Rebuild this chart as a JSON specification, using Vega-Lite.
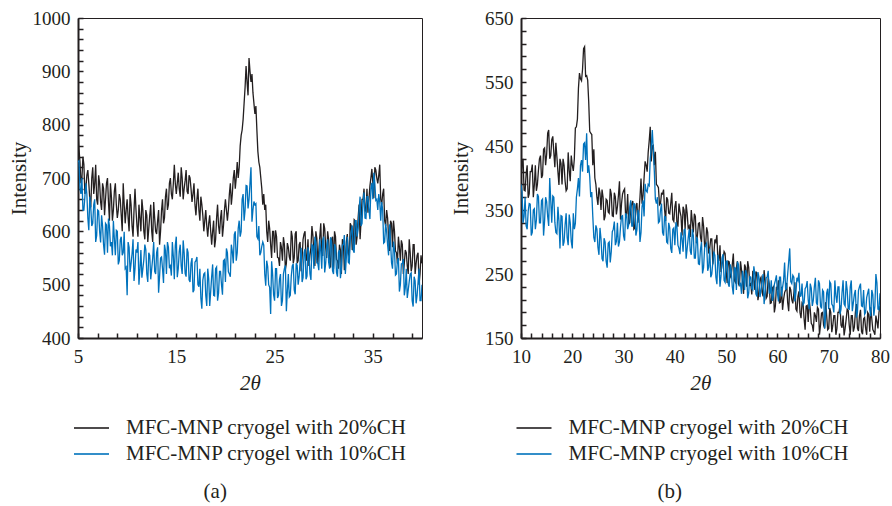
{
  "$schema": "https://vega.github.io/schema/vega-lite/v6.json",
  "background": "white",
  "padding": {"left": 8, "top": 8, "right": 4, "bottom": 2},
  "datasets": {
    "a": [
      {"t":5,"c20":790,"c10":730},{"t":5.2,"c20":730,"c10":680},{"t":5.4,"c20":700,"c10":700},{"t":5.6,"c20":725,"c10":640},{"t":5.8,"c20":680,"c10":690},{"t":6,"c20":715,"c10":625},{"t":6.2,"c20":660,"c10":665},{"t":6.4,"c20":700,"c10":610},{"t":6.6,"c20":670,"c10":650},{"t":6.8,"c20":725,"c10":580},
      {"t":7,"c20":650,"c10":640},{"t":7.2,"c20":690,"c10":600},{"t":7.4,"c20":640,"c10":630},{"t":7.6,"c20":680,"c10":575},{"t":7.8,"c20":660,"c10":615},{"t":8,"c20":700,"c10":560},{"t":8.2,"c20":620,"c10":610},{"t":8.4,"c20":665,"c10":580},{"t":8.6,"c20":640,"c10":620},{"t":8.8,"c20":690,"c10":555},
      {"t":9,"c20":625,"c10":600},{"t":9.2,"c20":670,"c10":545},{"t":9.4,"c20":630,"c10":590},{"t":9.6,"c20":690,"c10":560},{"t":9.8,"c20":615,"c10":530},{"t":10,"c20":660,"c10":480},{"t":10.2,"c20":600,"c10":570},{"t":10.4,"c20":650,"c10":540},{"t":10.6,"c20":590,"c10":585},{"t":10.8,"c20":680,"c10":530},
      {"t":11,"c20":610,"c10":560},{"t":11.2,"c20":650,"c10":500},{"t":11.4,"c20":600,"c10":565},{"t":11.6,"c20":640,"c10":530},{"t":11.8,"c20":585,"c10":575},{"t":12,"c20":630,"c10":520},{"t":12.2,"c20":605,"c10":560},{"t":12.4,"c20":650,"c10":510},{"t":12.6,"c20":580,"c10":550},{"t":12.8,"c20":625,"c10":525},
      {"t":13,"c20":595,"c10":560},{"t":13.2,"c20":640,"c10":485},{"t":13.4,"c20":600,"c10":550},{"t":13.6,"c20":660,"c10":530},{"t":13.8,"c20":625,"c10":575},{"t":14,"c20":680,"c10":520},{"t":14.2,"c20":650,"c10":570},{"t":14.4,"c20":700,"c10":535},{"t":14.6,"c20":660,"c10":580},{"t":14.8,"c20":725,"c10":510},
      {"t":15,"c20":670,"c10":590},{"t":15.2,"c20":710,"c10":530},{"t":15.4,"c20":665,"c10":575},{"t":15.6,"c20":700,"c10":520},{"t":15.8,"c20":680,"c10":560},{"t":16,"c20":715,"c10":515},{"t":16.2,"c20":670,"c10":560},{"t":16.4,"c20":700,"c10":505},{"t":16.6,"c20":655,"c10":550},{"t":16.8,"c20":690,"c10":490},
      {"t":17,"c20":630,"c10":545},{"t":17.2,"c20":680,"c10":500},{"t":17.4,"c20":620,"c10":530},{"t":17.6,"c20":650,"c10":455},{"t":17.8,"c20":600,"c10":520},{"t":18,"c20":640,"c10":480},{"t":18.2,"c20":590,"c10":530},{"t":18.4,"c20":630,"c10":460},{"t":18.6,"c20":575,"c10":515},{"t":18.8,"c20":620,"c10":480},
      {"t":19,"c20":585,"c10":530},{"t":19.2,"c20":650,"c10":470},{"t":19.4,"c20":595,"c10":525},{"t":19.6,"c20":640,"c10":500},{"t":19.8,"c20":610,"c10":545},{"t":20,"c20":660,"c10":505},{"t":20.2,"c20":620,"c10":560},{"t":20.4,"c20":670,"c10":520},{"t":20.6,"c20":650,"c10":575},{"t":20.8,"c20":700,"c10":540},
      {"t":21,"c20":680,"c10":600},{"t":21.2,"c20":730,"c10":560},{"t":21.4,"c20":720,"c10":620},{"t":21.6,"c20":780,"c10":600},{"t":21.8,"c20":810,"c10":670},{"t":22,"c20":870,"c10":640},{"t":22.2,"c20":880,"c10":685},{"t":22.4,"c20":925,"c10":660},{"t":22.6,"c20":880,"c10":720},{"t":22.8,"c20":860,"c10":640},
      {"t":23,"c20":820,"c10":650},{"t":23.2,"c20":790,"c10":590},{"t":23.4,"c20":730,"c10":610},{"t":23.6,"c20":700,"c10":560},{"t":23.8,"c20":650,"c10":580},{"t":24,"c20":640,"c10":520},{"t":24.2,"c20":600,"c10":545},{"t":24.4,"c20":620,"c10":500},{"t":24.6,"c20":575,"c10":445},{"t":24.8,"c20":600,"c10":520},
      {"t":25,"c20":560,"c10":470},{"t":25.2,"c20":590,"c10":530},{"t":25.4,"c20":550,"c10":480},{"t":25.6,"c20":580,"c10":520},{"t":25.8,"c20":545,"c10":470},{"t":26,"c20":575,"c10":530},{"t":26.2,"c20":540,"c10":450},{"t":26.4,"c20":570,"c10":520},{"t":26.6,"c20":545,"c10":480},{"t":26.8,"c20":590,"c10":535},
      {"t":27,"c20":550,"c10":490},{"t":27.2,"c20":600,"c10":540},{"t":27.4,"c20":545,"c10":500},{"t":27.6,"c20":580,"c10":545},{"t":27.8,"c20":550,"c10":505},{"t":28,"c20":595,"c10":560},{"t":28.2,"c20":545,"c10":510},{"t":28.4,"c20":585,"c10":570},{"t":28.6,"c20":555,"c10":520},{"t":28.8,"c20":610,"c10":575},
      {"t":29,"c20":560,"c10":530},{"t":29.2,"c20":600,"c10":580},{"t":29.4,"c20":540,"c10":540},{"t":29.6,"c20":590,"c10":585},{"t":29.8,"c20":555,"c10":530},{"t":30,"c20":615,"c10":590},{"t":30.2,"c20":570,"c10":540},{"t":30.4,"c20":600,"c10":585},{"t":30.6,"c20":550,"c10":530},{"t":30.8,"c20":585,"c10":580},
      {"t":31,"c20":530,"c10":520},{"t":31.2,"c20":590,"c10":570},{"t":31.4,"c20":545,"c10":515},{"t":31.6,"c20":575,"c10":565},{"t":31.8,"c20":520,"c10":530},{"t":32,"c20":580,"c10":575},{"t":32.2,"c20":545,"c10":520},{"t":32.4,"c20":595,"c10":590},{"t":32.6,"c20":550,"c10":540},{"t":32.8,"c20":610,"c10":600},
      {"t":33,"c20":570,"c10":565},{"t":33.2,"c20":620,"c10":620},{"t":33.4,"c20":590,"c10":590},{"t":33.6,"c20":650,"c10":640},{"t":33.8,"c20":620,"c10":610},{"t":34,"c20":660,"c10":655},{"t":34.2,"c20":640,"c10":625},{"t":34.4,"c20":680,"c10":665},{"t":34.6,"c20":660,"c10":640},{"t":34.8,"c20":700,"c10":680},
      {"t":35,"c20":690,"c10":660},{"t":35.2,"c20":720,"c10":690},{"t":35.4,"c20":700,"c10":660},{"t":35.6,"c20":705,"c10":670},{"t":35.8,"c20":660,"c10":620},{"t":36,"c20":670,"c10":640},{"t":36.2,"c20":620,"c10":580},{"t":36.4,"c20":640,"c10":600},{"t":36.6,"c20":590,"c10":555},{"t":36.8,"c20":620,"c10":580},
      {"t":37,"c20":570,"c10":530},{"t":37.2,"c20":600,"c10":565},{"t":37.4,"c20":560,"c10":520},{"t":37.6,"c20":590,"c10":550},{"t":37.8,"c20":545,"c10":500},{"t":38,"c20":575,"c10":540},{"t":38.2,"c20":540,"c10":480},{"t":38.4,"c20":560,"c10":530},{"t":38.6,"c20":520,"c10":490},{"t":38.8,"c20":560,"c10":520},
      {"t":39,"c20":535,"c10":470},{"t":39.2,"c20":575,"c10":515},{"t":39.4,"c20":540,"c10":465},{"t":39.6,"c20":560,"c10":505},{"t":39.8,"c20":520,"c10":470},{"t":40,"c20":540,"c10":500},
      {"t":5.1,"c20":755,"c10":732},{"t":5.3,"c20":690,"c10":670},{"t":5.5,"c20":740,"c10":640},{"t":5.7,"c20":670,"c10":665},{"t":5.9,"c20":705,"c10":670},
      {"t":6.1,"c20":690,"c10":602},{"t":6.3,"c20":645,"c10":645},{"t":6.5,"c20":720,"c10":615},{"t":6.7,"c20":690,"c10":660},{"t":6.9,"c20":660,"c10":592},
      {"t":7.1,"c20":705,"c10":638},{"t":7.3,"c20":655,"c10":579},{"t":7.5,"c20":690,"c10":610},{"t":7.7,"c20":630,"c10":556},{"t":7.9,"c20":690,"c10":612},
      {"t":8.1,"c20":655,"c10":624},{"t":8.3,"c20":690,"c10":572},{"t":8.5,"c20":620,"c10":555},{"t":8.7,"c20":675,"c10":586},{"t":8.9,"c20":650,"c10":602},
      {"t":9.1,"c20":640,"c10":538},{"t":9.3,"c20":660,"c10":584},{"t":9.5,"c20":600,"c10":555},{"t":9.7,"c20":650,"c10":599},{"t":9.9,"c20":640,"c10":533},
      {"t":10.1,"c20":625,"c10":580},{"t":10.3,"c20":670,"c10":524},{"t":10.5,"c20":610,"c10":558},{"t":10.7,"c20":640,"c10":507},{"t":10.9,"c20":640,"c10":566},
      {"t":11.1,"c20":590,"c10":580},{"t":11.3,"c20":625,"c10":529},{"t":11.5,"c20":660,"c10":513},{"t":11.7,"c20":600,"c10":547},{"t":11.9,"c20":640,"c10":566},
      {"t":12.1,"c20":580,"c10":505},{"t":12.3,"c20":630,"c10":555},{"t":12.5,"c20":600,"c10":530},{"t":12.7,"c20":655,"c10":580},{"t":12.9,"c20":600,"c10":520},
      {"t":13.1,"c20":620,"c10":570},{"t":13.3,"c20":575,"c10":516},{"t":13.5,"c20":640,"c10":552},{"t":13.7,"c20":615,"c10":503},{"t":13.9,"c20":665,"c10":564},
      {"t":14.1,"c20":640,"c10":580},{"t":14.3,"c20":690,"c10":531},{"t":14.5,"c20":670,"c10":517},{"t":14.7,"c20":690,"c10":553},{"t":14.9,"c20":690,"c10":574},
      {"t":15.1,"c20":690,"c10":514},{"t":15.3,"c20":680,"c10":562},{"t":15.5,"c20":720,"c10":535},{"t":15.7,"c20":660,"c10":583},{"t":15.9,"c20":695,"c10":521},
      {"t":16.1,"c20":675,"c10":568},{"t":16.3,"c20":705,"c10":509},{"t":16.5,"c20":680,"c10":540},{"t":16.7,"c20":670,"c10":486},{"t":16.9,"c20":650,"c10":542},
      {"t":17.1,"c20":660,"c10":552},{"t":17.3,"c20":640,"c10":496},{"t":17.5,"c20":665,"c10":475},{"t":17.7,"c20":630,"c10":508},{"t":17.9,"c20":620,"c10":522},
      {"t":18.1,"c20":610,"c10":460},{"t":18.3,"c20":615,"c10":511},{"t":18.5,"c20":600,"c10":487},{"t":18.7,"c20":600,"c10":538},{"t":18.9,"c20":570,"c10":479},
      {"t":19.1,"c20":625,"c10":533},{"t":19.3,"c20":610,"c10":484},{"t":19.5,"c20":625,"c10":525},{"t":19.7,"c20":590,"c10":481},{"t":19.9,"c20":640,"c10":547},
      {"t":20.1,"c20":640,"c10":568},{"t":20.3,"c20":640,"c10":524},{"t":20.5,"c20":690,"c10":515},{"t":20.7,"c20":670,"c10":562},{"t":20.9,"c20":715,"c10":594},
      {"t":21.1,"c20":700,"c10":545},{"t":21.3,"c20":700,"c10":605},{"t":21.5,"c20":760,"c10":590},{"t":21.7,"c20":790,"c10":660},{"t":21.9,"c20":840,"c10":620},
      {"t":22.1,"c20":910,"c10":686},{"t":22.3,"c20":855,"c10":643},{"t":22.5,"c20":900,"c10":690},{"t":22.7,"c20":895,"c10":618},{"t":22.9,"c20":840,"c10":656},
      {"t":23.1,"c20":835,"c10":652},{"t":23.3,"c20":750,"c10":586},{"t":23.5,"c20":720,"c10":555},{"t":23.7,"c20":680,"c10":572},{"t":23.9,"c20":670,"c10":574},
      {"t":24.1,"c20":650,"c10":498},{"t":24.3,"c20":580,"c10":534},{"t":24.5,"c20":605,"c10":495},{"t":24.7,"c20":550,"c10":544},{"t":24.9,"c20":600,"c10":481},
      {"t":25.1,"c20":602,"c10":530},{"t":25.3,"c20":551,"c10":475},{"t":25.5,"c20":535,"c10":510},{"t":25.7,"c20":570,"c10":460},{"t":25.9,"c20":589,"c10":520},
      {"t":26.1,"c20":528,"c10":536},{"t":26.3,"c20":578,"c10":488},{"t":26.5,"c20":552,"c10":477},{"t":26.7,"c20":601,"c10":516},{"t":26.9,"c20":540,"c10":539},
      {"t":27.1,"c20":595,"c10":482},{"t":27.3,"c20":540,"c10":536},{"t":27.5,"c20":575,"c10":515},{"t":27.7,"c20":525,"c10":569},{"t":27.9,"c20":585,"c10":513},
      {"t":28.1,"c20":600,"c10":567},{"t":28.3,"c20":550,"c10":516},{"t":28.5,"c20":535,"c10":555},{"t":28.7,"c20":570,"c10":509},{"t":28.9,"c20":592,"c10":573},
      {"t":29.1,"c20":535,"c10":590},{"t":29.3,"c20":587,"c10":541},{"t":29.5,"c20":564,"c10":527},{"t":29.7,"c20":615,"c10":563},{"t":29.9,"c20":555,"c10":584},
      {"t":30.1,"c20":605,"c10":523},{"t":30.3,"c20":550,"c10":570},{"t":30.5,"c20":584,"c10":542},{"t":30.7,"c20":532,"c10":589},{"t":30.9,"c20":590,"c10":526},
      {"t":31.1,"c20":600,"c10":576},{"t":31.3,"c20":547,"c10":523},{"t":31.5,"c20":530,"c10":560},{"t":31.7,"c20":565,"c10":512},{"t":31.9,"c20":585,"c10":574},
      {"t":32.1,"c20":527,"c10":593},{"t":32.3,"c20":580,"c10":550},{"t":32.5,"c20":560,"c10":542},{"t":32.7,"c20":615,"c10":584},{"t":32.9,"c20":565,"c10":611},
      {"t":33.1,"c20":622,"c10":560},{"t":33.3,"c20":575,"c10":620},{"t":33.5,"c20":625,"c10":605},{"t":33.7,"c20":585,"c10":665},{"t":33.9,"c20":660,"c10":615},
      {"t":34.1,"c20":680,"c10":673},{"t":34.3,"c20":637,"c10":624},{"t":34.5,"c20":635,"c10":665},{"t":34.7,"c20":685,"c10":623},{"t":34.9,"c20":717,"c10":691},
      {"t":35.1,"c20":662,"c10":710},{"t":35.3,"c20":715,"c10":658},{"t":35.5,"c20":690,"c10":640},{"t":35.7,"c20":725,"c10":655},{"t":35.9,"c20":650,"c10":655},
      {"t":36.1,"c20":680,"c10":578},{"t":36.3,"c20":610,"c10":614},{"t":36.5,"c20":625,"c10":575},{"t":36.7,"c20":563,"c10":613},{"t":36.9,"c20":615,"c10":541},
      {"t":37.1,"c20":620,"c10":581},{"t":37.3,"c20":563,"c10":518},{"t":37.5,"c20":540,"c10":545},{"t":37.7,"c20":570,"c10":487},{"t":37.9,"c20":583,"c10":539},
      {"t":38.1,"c20":520,"c10":548},{"t":38.3,"c20":565,"c10":494},{"t":38.5,"c20":535,"c10":475},{"t":38.7,"c20":585,"c10":506},{"t":38.9,"c20":525,"c10":522},
      {"t":39.1,"c20":575,"c10":459},{"t":39.3,"c20":520,"c10":507},{"t":39.5,"c20":555,"c10":480},{"t":39.7,"c20":500,"c10":530},{"t":39.9,"c20":555,"c10":470}
    ],
    "b": [
      {"t":10,"c20":400,"c10":390},{"t":10.4,"c20":430,"c10":330},{"t":10.8,"c20":380,"c10":370},{"t":11.2,"c20":420,"c10":320},{"t":11.6,"c20":375,"c10":360},{"t":12,"c20":410,"c10":310},{"t":12.4,"c20":370,"c10":350},{"t":12.8,"c20":420,"c10":320},{"t":13.2,"c20":390,"c10":375},{"t":13.6,"c20":430,"c10":330},
      {"t":14,"c20":400,"c10":365},{"t":14.4,"c20":445,"c10":310},{"t":14.8,"c20":420,"c10":370},{"t":15.2,"c20":470,"c10":340},{"t":15.6,"c20":430,"c10":400},{"t":16,"c20":460,"c10":330},{"t":16.4,"c20":440,"c10":370},{"t":16.8,"c20":455,"c10":315},{"t":17.2,"c20":410,"c10":355},{"t":17.6,"c20":430,"c10":290},
      {"t":18,"c20":390,"c10":340},{"t":18.4,"c20":420,"c10":300},{"t":18.8,"c20":380,"c10":345},{"t":19.2,"c20":440,"c10":295},{"t":19.6,"c20":395,"c10":330},{"t":20,"c20":420,"c10":290},{"t":20.4,"c20":430,"c10":320},{"t":20.8,"c20":480,"c10":370},{"t":21.2,"c20":540,"c10":400},{"t":21.6,"c20":555,"c10":420},
      {"t":22,"c20":570,"c10":410},{"t":22.4,"c20":605,"c10":455},{"t":22.8,"c20":560,"c10":470},{"t":23.2,"c20":520,"c10":420},{"t":23.6,"c20":470,"c10":370},{"t":24,"c20":420,"c10":340},{"t":24.4,"c20":400,"c10":300},{"t":24.8,"c20":370,"c10":320},{"t":25.2,"c20":385,"c10":280},{"t":25.6,"c20":350,"c10":305},
      {"t":26,"c20":370,"c10":270},{"t":26.4,"c20":340,"c10":300},{"t":26.8,"c20":365,"c10":260},{"t":27.2,"c20":345,"c10":300},{"t":27.6,"c20":375,"c10":285},{"t":28,"c20":340,"c10":320},{"t":28.4,"c20":370,"c10":295},{"t":28.8,"c20":355,"c10":330},{"t":29.2,"c20":395,"c10":300},{"t":29.6,"c20":360,"c10":340},
      {"t":30,"c20":380,"c10":310},{"t":30.4,"c20":340,"c10":345},{"t":30.8,"c20":375,"c10":320},{"t":31.2,"c20":330,"c10":355},{"t":31.6,"c20":360,"c10":325},{"t":32,"c20":320,"c10":360},{"t":32.4,"c20":355,"c10":310},{"t":32.8,"c20":330,"c10":350},{"t":33.2,"c20":370,"c10":300},{"t":33.6,"c20":360,"c10":355},
      {"t":34,"c20":400,"c10":340},{"t":34.4,"c20":420,"c10":380},{"t":34.8,"c20":440,"c10":390},{"t":35.2,"c20":480,"c10":430},{"t":35.6,"c20":450,"c10":475},{"t":36,"c20":420,"c10":410},{"t":36.4,"c20":390,"c10":360},{"t":36.8,"c20":385,"c10":330},{"t":37.2,"c20":360,"c10":350},{"t":37.6,"c20":375,"c10":315},
      {"t":38,"c20":350,"c10":340},{"t":38.4,"c20":370,"c10":300},{"t":38.8,"c20":345,"c10":330},{"t":39.2,"c20":360,"c10":290},{"t":39.6,"c20":335,"c10":320},{"t":40,"c20":355,"c10":295},{"t":40.4,"c20":330,"c10":325},{"t":40.8,"c20":360,"c10":290},{"t":41.2,"c20":340,"c10":315},{"t":41.6,"c20":355,"c10":285},
      {"t":42,"c20":320,"c10":320},{"t":42.4,"c20":345,"c10":290},{"t":42.8,"c20":325,"c10":320},{"t":43.2,"c20":350,"c10":280},{"t":43.6,"c20":315,"c10":310},{"t":44,"c20":340,"c10":275},{"t":44.4,"c20":310,"c10":305},{"t":44.8,"c20":330,"c10":265},{"t":45.2,"c20":300,"c10":300},{"t":45.6,"c20":325,"c10":260},
      {"t":46,"c20":295,"c10":295},{"t":46.4,"c20":315,"c10":255},{"t":46.8,"c20":290,"c10":290},{"t":47.2,"c20":305,"c10":250},{"t":47.6,"c20":280,"c10":285},{"t":48,"c20":300,"c10":245},{"t":48.4,"c20":270,"c10":280},{"t":48.8,"c20":295,"c10":230},{"t":49.2,"c20":265,"c10":275},{"t":49.6,"c20":285,"c10":240},
      {"t":50,"c20":255,"c10":270},{"t":50.4,"c20":270,"c10":235},{"t":50.8,"c20":245,"c10":265},{"t":51.2,"c20":265,"c10":230},{"t":51.6,"c20":240,"c10":260},{"t":52,"c20":260,"c10":225},{"t":52.4,"c20":235,"c10":265},{"t":52.8,"c20":270,"c10":235},{"t":53.2,"c20":240,"c10":255},{"t":53.6,"c20":265,"c10":225},
      {"t":54,"c20":230,"c10":250},{"t":54.4,"c20":260,"c10":220},{"t":54.8,"c20":235,"c10":245},{"t":55.2,"c20":255,"c10":225},{"t":55.6,"c20":225,"c10":250},{"t":56,"c20":250,"c10":215},{"t":56.4,"c20":220,"c10":245},{"t":56.8,"c20":245,"c10":225},{"t":57.2,"c20":215,"c10":250},{"t":57.6,"c20":240,"c10":220},
      {"t":58,"c20":215,"c10":245},{"t":58.4,"c20":235,"c10":220},{"t":58.8,"c20":205,"c10":240},{"t":59.2,"c20":230,"c10":215},{"t":59.6,"c20":200,"c10":240},{"t":60,"c20":225,"c10":220},{"t":60.4,"c20":205,"c10":245},{"t":60.8,"c20":230,"c10":215},{"t":61.2,"c20":210,"c10":240},{"t":61.6,"c20":225,"c10":225},
      {"t":62,"c20":205,"c10":250},{"t":62.4,"c20":230,"c10":290},{"t":62.8,"c20":210,"c10":235},{"t":63.2,"c20":220,"c10":245},{"t":63.6,"c20":195,"c10":220},{"t":64,"c20":215,"c10":240},{"t":64.4,"c20":190,"c10":215},{"t":64.8,"c20":205,"c10":235},{"t":65.2,"c20":180,"c10":205},{"t":65.6,"c20":200,"c10":230},
      {"t":66,"c20":175,"c10":210},{"t":66.4,"c20":195,"c10":235},{"t":66.8,"c20":170,"c10":200},{"t":67.2,"c20":190,"c10":230},{"t":67.6,"c20":175,"c10":205},{"t":68,"c20":195,"c10":240},{"t":68.4,"c20":170,"c10":200},{"t":68.8,"c20":190,"c10":225},{"t":69.2,"c20":165,"c10":165},{"t":69.6,"c20":185,"c10":220},
      {"t":70,"c20":165,"c10":195},{"t":70.4,"c20":190,"c10":235},{"t":70.8,"c20":170,"c10":200},{"t":71.2,"c20":185,"c10":240},{"t":71.6,"c20":165,"c10":205},{"t":72,"c20":190,"c10":230},{"t":72.4,"c20":170,"c10":195},{"t":72.8,"c20":185,"c10":240},{"t":73.2,"c20":165,"c10":200},{"t":73.6,"c20":195,"c10":225},
      {"t":74,"c20":170,"c10":195},{"t":74.4,"c20":185,"c10":240},{"t":74.8,"c20":160,"c10":205},{"t":75.2,"c20":190,"c10":225},{"t":75.6,"c20":165,"c10":190},{"t":76,"c20":185,"c10":230},{"t":76.4,"c20":160,"c10":200},{"t":76.8,"c20":180,"c10":225},{"t":77.2,"c20":165,"c10":190},{"t":77.6,"c20":190,"c10":220},
      {"t":78,"c20":160,"c10":195},{"t":78.4,"c20":180,"c10":225},{"t":78.8,"c20":160,"c10":185},{"t":79.2,"c20":185,"c10":250},{"t":79.6,"c20":165,"c10":195},{"t":80,"c20":200,"c10":220},
      {"t":10.2,"c20":420,"c10":378},{"t":10.6,"c20":381,"c10":340},{"t":11,"c20":406,"c10":325},{"t":11.4,"c20":369,"c10":348},{"t":11.8,"c20":410,"c10":359},
      {"t":12.2,"c20":421,"c10":315},{"t":12.6,"c20":389,"c10":352},{"t":13,"c20":380,"c10":334},{"t":13.4,"c20":412,"c10":371},{"t":13.8,"c20":435,"c10":330},
      {"t":14.2,"c20":404,"c10":367},{"t":14.6,"c20":447,"c10":333},{"t":15,"c20":437,"c10":363},{"t":15.4,"c20":475,"c10":325},{"t":15.8,"c20":435,"c10":365},
      {"t":16.2,"c20":465,"c10":372},{"t":16.6,"c20":417,"c10":331},{"t":17,"c20":433,"c10":313},{"t":17.4,"c20":389,"c10":333},{"t":17.8,"c20":423,"c10":341},
      {"t":18.2,"c20":430,"c10":294},{"t":18.6,"c20":395,"c10":327},{"t":19,"c20":383,"c10":307},{"t":19.4,"c20":412,"c10":343},{"t":19.8,"c20":435,"c10":301},
      {"t":20.2,"c20":411,"c10":345},{"t":20.6,"c20":478,"c10":329},{"t":21,"c20":492,"c10":383},{"t":21.4,"c20":564,"c10":371},{"t":21.8,"c20":552,"c10":428},
      {"t":22.2,"c20":602,"c10":453},{"t":22.6,"c20":559,"c10":428},{"t":23,"c20":553,"c10":408},{"t":23.4,"c20":473,"c10":402},{"t":23.8,"c20":468,"c10":378},
      {"t":24.2,"c20":445,"c10":307},{"t":24.6,"c20":390,"c10":326},{"t":25,"c20":358,"c10":292},{"t":25.4,"c20":376,"c10":322},{"t":25.8,"c20":382,"c10":274},
      {"t":26.2,"c20":334,"c10":306},{"t":26.6,"c20":367,"c10":270},{"t":27,"c20":347,"c10":298},{"t":27.4,"c20":383,"c10":268},{"t":27.8,"c20":341,"c10":316},
      {"t":28.2,"c20":377,"c10":332},{"t":28.6,"c20":343,"c10":301},{"t":29,"c20":373,"c10":293},{"t":29.4,"c20":335,"c10":323},{"t":29.8,"c20":375,"c10":341},
      {"t":30.2,"c20":383,"c10":302},{"t":30.6,"c20":344,"c10":341},{"t":31,"c20":328,"c10":327},{"t":31.4,"c20":352,"c10":365},{"t":31.8,"c20":364,"c10":325},
      {"t":32.2,"c20":322,"c10":359},{"t":32.6,"c20":361,"c10":319},{"t":33,"c20":347,"c10":343},{"t":33.4,"c20":399,"c10":315},{"t":33.8,"c20":373,"c10":365},
      {"t":34.2,"c20":426,"c10":391},{"t":34.6,"c20":410,"c10":378},{"t":35,"c20":458,"c10":388},{"t":35.4,"c20":426,"c10":446},{"t":35.8,"c20":451,"c10":444},
      {"t":36.2,"c20":441,"c10":367},{"t":36.6,"c20":388,"c10":370},{"t":37,"c20":358,"c10":332},{"t":37.4,"c20":376,"c10":360},{"t":37.8,"c20":382,"c10":310},
      {"t":38.2,"c20":333,"c10":339},{"t":38.6,"c20":366,"c10":298},{"t":39,"c20":344,"c10":322},{"t":39.4,"c20":377,"c10":283},{"t":39.8,"c20":332,"c10":322},
      {"t":40.2,"c20":364,"c10":331},{"t":40.6,"c20":324,"c10":295},{"t":41,"c20":348,"c10":281},{"t":41.4,"c20":310,"c10":306},{"t":41.8,"c20":350,"c10":319},
      {"t":42.2,"c20":359,"c10":274},{"t":42.6,"c20":322,"c10":306},{"t":43,"c20":308,"c10":286},{"t":43.4,"c20":332,"c10":320},{"t":43.8,"c20":344,"c10":275},
      {"t":44.2,"c20":298,"c10":307},{"t":44.6,"c20":329,"c10":266},{"t":45,"c20":307,"c10":289},{"t":45.4,"c20":339,"c10":251},{"t":45.8,"c20":293,"c10":290},
      {"t":46.2,"c20":323,"c10":298},{"t":46.6,"c20":282,"c10":261},{"t":47,"c20":305,"c10":245},{"t":47.4,"c20":265,"c10":268},{"t":47.8,"c20":304,"c10":279},
      {"t":48.2,"c20":311,"c10":234},{"t":48.6,"c20":271,"c10":267},{"t":49,"c20":253,"c10":247},{"t":49.4,"c20":274,"c10":281},{"t":49.8,"c20":282,"c10":237},
      {"t":50.2,"c20":236,"c10":270},{"t":50.6,"c20":269,"c10":230},{"t":51,"c20":248,"c10":255},{"t":51.4,"c20":282,"c10":218},{"t":51.8,"c20":237,"c10":259},
      {"t":52.2,"c20":270,"c10":269},{"t":52.6,"c20":231,"c10":233},{"t":53,"c20":256,"c10":219},{"t":53.4,"c20":219,"c10":243},{"t":53.8,"c20":260,"c10":256},
      {"t":54.2,"c20":270,"c10":212},{"t":54.6,"c20":233,"c10":246},{"t":55,"c20":218,"c10":227},{"t":55.4,"c20":242,"c10":262},{"t":55.8,"c20":254,"c10":219},
      {"t":56.2,"c20":209,"c10":253},{"t":56.6,"c20":242,"c10":214},{"t":57,"c20":222,"c10":239},{"t":57.4,"c20":256,"c10":203},{"t":57.8,"c20":212,"c10":244},
      {"t":58.2,"c20":244,"c10":255},{"t":58.6,"c20":204,"c10":220},{"t":59,"c20":228,"c10":208},{"t":59.4,"c20":190,"c10":234},{"t":59.8,"c20":230,"c10":248},
      {"t":60.2,"c20":240,"c10":207},{"t":60.6,"c20":206,"c10":245},{"t":61,"c20":194,"c10":229},{"t":61.4,"c20":221,"c10":268},{"t":61.8,"c20":236,"c10":229},
      {"t":62.2,"c20":192,"c10":270},{"t":62.6,"c20":225,"c10":238},{"t":63,"c20":204,"c10":248},{"t":63.4,"c20":237,"c10":207},{"t":63.8,"c20":192,"c10":244},
      {"t":64.2,"c20":223,"c10":252},{"t":64.6,"c20":181,"c10":216},{"t":65,"c20":203,"c10":202},{"t":65.4,"c20":163,"c10":227},{"t":65.8,"c20":201,"c10":239},
      {"t":66.2,"c20":209,"c10":195},{"t":66.6,"c20":173,"c10":228},{"t":67,"c20":160,"c10":209},{"t":67.4,"c20":185,"c10":244},{"t":67.8,"c20":198,"c10":201},
      {"t":68.2,"c20":155,"c10":235},{"t":68.6,"c20":189,"c10":196},{"t":69,"c20":170,"c10":222},{"t":69.4,"c20":206,"c10":185},{"t":69.8,"c20":163,"c10":227},
      {"t":70.2,"c20":197,"c10":238},{"t":70.6,"c20":159,"c10":203},{"t":71,"c20":185,"c10":190},{"t":71.4,"c20":155,"c10":216},{"t":71.8,"c20":190,"c10":230},
      {"t":72.2,"c20":201,"c10":187},{"t":72.6,"c20":166,"c10":221},{"t":73,"c20":154,"c10":203},{"t":73.4,"c20":179,"c10":239},{"t":73.8,"c20":193,"c10":196},
      {"t":74.2,"c20":155,"c10":230},{"t":74.6,"c20":185,"c10":192},{"t":75,"c20":167,"c10":218},{"t":75.4,"c20":203,"c10":182},{"t":75.8,"c20":161,"c10":224},
      {"t":76.2,"c20":194,"c10":235},{"t":76.6,"c20":156,"c10":199},{"t":77,"c20":182,"c10":187},{"t":77.4,"c20":155,"c10":213},{"t":77.8,"c20":187,"c10":227},
      {"t":78.2,"c20":198,"c10":184},{"t":78.6,"c20":163,"c10":218},{"t":79,"c20":155,"c10":200},{"t":79.4,"c20":176,"c10":236},{"t":79.8,"c20":190,"c10":194}
    ]
  },
  "spacing": 26,
  "resolve": {"scale": {"color": "independent"}},
  "hconcat": [
    {
      "width": 344,
      "height": 320,
      "data": {"name": "a"},
      "title": {"text": "(a)", "orient": "bottom", "anchor": "middle", "frame": "bounds", "offset": 17},
      "encoding": {
        "x": {
          "field": "t", "type": "quantitative",
          "scale": {"domain": [5, 40], "nice": false, "zero": false},
          "axis": {
            "title": "2θ", "labelOverlap": false, "tickCount": 200, "format": "d",
            "labelFont": "Liberation Serif", "titleFont": "Liberation Serif",
            "values": [5,7,9,11,13,15,17,19,21,23,25,27,29,31,33,35,37,39],
            "labelExpr": "(datum.value - 5) % 10 == 0 ? datum.label : ''"
          }
        }
      },
      "layer": [
        {
          "mark": {"type": "line", "strokeWidth": 1.3, "clip": true},
          "encoding": {
            "y": {
              "field": "c20", "type": "quantitative",
              "scale": {"domain": [400, 1000], "nice": false, "zero": false},
              "axis": {
                "title": "Intensity", "titlePadding": 2.5, "labelOverlap": false, "tickCount": 200, "format": "d",
                "labelFont": "Liberation Serif", "titleFont": "Liberation Serif",
                "values": [400,420,440,460,480,500,520,540,560,580,600,620,640,660,680,700,720,740,760,780,800,820,840,860,880,900,920,940,960,980,1000],
                "labelExpr": "datum.value % 100 == 0 ? datum.label : ''"
              }
            },
            "color": {
              "datum": "MFC-MNP cryogel with 20%CH", "type": "nominal",
              "scale": {"domain": ["MFC-MNP cryogel with 20%CH", "MFC-MNP cryogel with 10%CH"], "range": ["#231f20", "#0072bc"]},
              "legend": {"title": null, "orient": "none", "legendX": 2.5, "legendY": 399}
            }
          }
        },
        {
          "mark": {"type": "line", "strokeWidth": 1.3, "clip": true},
          "encoding": {
            "y": {"field": "c10", "type": "quantitative"},
            "color": {"datum": "MFC-MNP cryogel with 10%CH", "type": "nominal"}
          }
        }
      ]
    },
    {
      "width": 359,
      "height": 320,
      "data": {"name": "b"},
      "title": {"text": "(b)", "orient": "bottom", "anchor": "middle", "frame": "bounds", "offset": 17},
      "encoding": {
        "x": {
          "field": "t", "type": "quantitative",
          "scale": {"domain": [10, 80], "nice": false, "zero": false},
          "axis": {
            "title": "2θ", "labelOverlap": false, "tickCount": 200, "format": "d",
            "labelFont": "Liberation Serif", "titleFont": "Liberation Serif",
            "values": [10,12,14,16,18,20,22,24,26,28,30,32,34,36,38,40,42,44,46,48,50,52,54,56,58,60,62,64,66,68,70,72,74,76,78,80],
            "labelExpr": "datum.value % 10 == 0 ? datum.label : ''"
          }
        }
      },
      "layer": [
        {
          "mark": {"type": "line", "strokeWidth": 1.3, "clip": true},
          "encoding": {
            "y": {
              "field": "c20", "type": "quantitative",
              "scale": {"domain": [150, 650], "nice": false, "zero": false},
              "axis": {
                "title": "Intensity", "titlePadding": 13.5, "labelOverlap": false, "tickCount": 200, "format": "d",
                "labelFont": "Liberation Serif", "titleFont": "Liberation Serif",
                "values": [150,170,190,210,230,250,270,290,310,330,350,370,390,410,430,450,470,490,510,530,550,570,590,610,630,650],
                "labelExpr": "(datum.value - 150) % 100 == 0 ? datum.label : ''"
              }
            },
            "color": {
              "datum": "MFC-MNP cryogel with 20%CH", "type": "nominal",
              "scale": {"domain": ["MFC-MNP cryogel with 20%CH", "MFC-MNP cryogel with 10%CH"], "range": ["#231f20", "#0072bc"]},
              "legend": {"title": null, "orient": "none", "legendX": 2, "legendY": 399}
            }
          }
        },
        {
          "mark": {"type": "line", "strokeWidth": 1.3, "clip": true},
          "encoding": {
            "y": {"field": "c10", "type": "quantitative"},
            "color": {"datum": "MFC-MNP cryogel with 10%CH", "type": "nominal"}
          }
        }
      ]
    }
  ],
  "config": {
    "font": "Liberation Serif",
    "style": {
      "guide-label": {"font": "Liberation Serif"},
      "guide-title": {"font": "Liberation Serif"}
    },
    "view": {"stroke": "#231f20", "strokeWidth": 1},
    "axis": {
      "grid": false,
      "domainColor": "#231f20", "domainWidth": 2,
      "tickColor": "#231f20", "tickWidth": 1.5, "tickSize": -5,
      "labelFont": "Liberation Serif", "labelFontSize": 19, "labelColor": "#231f20",
      "labelFlush": false, "labelOverlap": false,
      "titleFont": "Liberation Serif", "titleFontSize": 21, "titleFontWeight": "normal", "titleColor": "#231f20"
    },
    "axisX": {"titleFontStyle": "italic", "titlePadding": 6, "labelPadding": 14},
    "axisY": {"labelPadding": 13},
    "legend": {
      "labelFont": "Liberation Serif", "labelFontSize": 21, "labelColor": "#231f20", "labelLimit": 0,
      "symbolType": "M-1.75,0H1.75", "symbolSize": 400, "symbolStrokeWidth": 2, "symbolOpacity": 0.8,
      "labelOffset": 23.5, "rowPadding": 5
    },
    "title": {"font": "Liberation Serif", "fontSize": 21, "fontWeight": "normal", "color": "#231f20"}
  }
}
